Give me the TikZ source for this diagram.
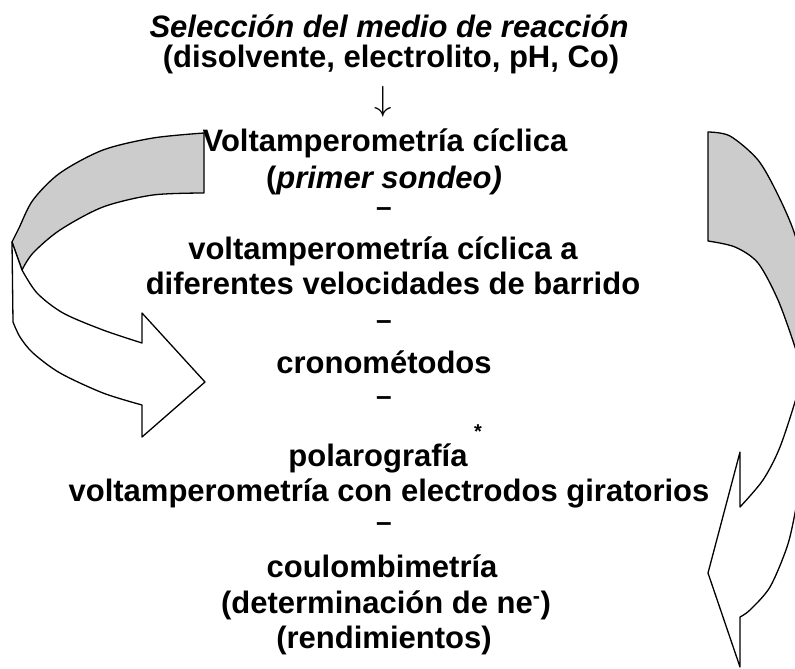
\documentclass[tikz,border=0pt]{standalone}
\usepackage{fontspec}
\setmainfont{Liberation Sans}
\begin{document}
\begin{tikzpicture}[x=1pt,y=-1pt,
  txt/.style={font=\fontsize{31}{36}\selectfont\bfseries, inner sep=0pt, anchor=base},
  txtit/.style={font=\fontsize{31}{36}\selectfont\bfseries\itshape, inner sep=0pt, anchor=base},
  sep/.style={font=\fontsize{28}{32}\selectfont\bfseries, inner sep=0pt, anchor=base},
  arr/.style={font=\fontsize{24}{28}\selectfont, inner sep=0pt, anchor=center, scale=1.4},
  star/.style={font=\fontsize{20}{24}\selectfont\bfseries, inner sep=0pt, anchor=base},
  band/.style={draw=black, line width=1.3pt, line join=round},
  back/.style={band, fill=black!20},
  front/.style={band, fill=white}]
\useasboundingbox (0,0) rectangle (795,669);
\begin{scope}
\clip (0,0) rectangle (795,669);
% left curved arrow
\path[back] plot[smooth] coordinates {(204,133) (153,138) (103,150) (60,173) (33,200) (19,228) (12,242)}
  -- (22,270)
  -- plot[smooth] coordinates {(22,270) (33,253) (60,230) (103,207) (153,195) (204,193)}
  -- cycle;
\path[front] (12,242) -- (13,322)
  -- plot[smooth] coordinates {(13,322) (20,337) (33,353) (60,373) (103,393) (142,405)}
  -- (142,437) -- (205,382) -- (142,313) -- (142,343)
  -- plot[smooth] coordinates {(142,343) (103,330) (63,313) (37,293) (22,270)}
  -- cycle;
% right curved arrow
\path[back] (708,241) -- (708,132)
  -- plot[smooth] coordinates {(708,132) (730,136) (758,160) (778,195) (795,235) (806,285) (812,340) (812,375)}
  -- (803,375)
  -- plot[smooth] coordinates {(803,375) (795,347) (778,300) (758,263) (735,247) (708,241)}
  -- cycle;
\path[front] plot[smooth] coordinates {(803,365) (797,395) (780,447) (763,480) (740,507)}
  -- (740,452) -- (708,573) -- (740,667) -- (740,617)
  -- plot[smooth] coordinates {(740,617) (750,610) (770,587) (787,547) (795,513) (802,470) (806,440)}
  -- (815,400) -- cycle;
\end{scope}
% texts
\node[txtit] (t1) at (389,38) {Selección del medio de reacción};
\node[txt] (t2) at (391,67) {(disolvente, electrolito, pH, Co)};
\node[arr] (a0) at (383,102) {$\downarrow$};
\node[txt] (t3) at (385,151) {Voltamperometría cíclica};
\node[txt] (t4) at (384,188) {(\textit{primer sondeo)}};
\node[sep] (d1) at (384,216) {–};
\node[txt] (t5) at (383,259) {voltamperometría cíclica a};
\node[txt] (t6) at (393,294) {diferentes velocidades de barrido};
\node[sep] (d2) at (384,329) {–};
\node[txt] (t7) at (384,373) {cronométodos};
\node[sep] (d3) at (384,405) {–};
\node[star] (s1) at (478,438) {*};
\node[txt] (t8) at (378,466) {polarografía};
\node[txt] (t9) at (389,501) {voltamperometría con electrodos giratorios};
\node[sep] (d4) at (384,531) {–};
\node[txt] (t10) at (382,577) {coulombimetría};
\node[txt] (t11) at (386,613) {(determinación de ne\textsuperscript{-})};
\node[txt] (t12) at (384,648) {(rendimientos)};
\end{tikzpicture}
\end{document}
